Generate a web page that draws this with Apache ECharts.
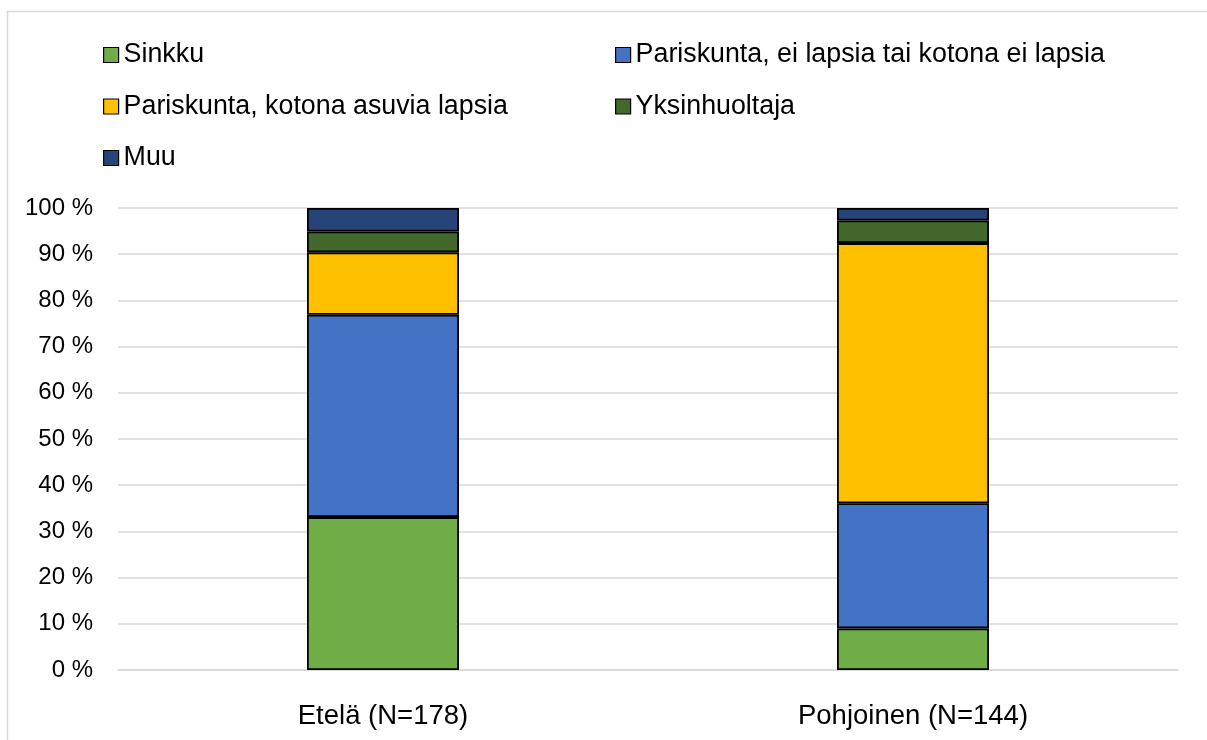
<!DOCTYPE html>
<html><head><meta charset="utf-8">
<script src="https://cdn.jsdelivr.net/npm/echarts@6/dist/echarts.min.js"></script>
<style>html,body{margin:0;padding:0;background:#fff}#c{width:1207px;height:740px}</style>
</head><body><div id="c"></div>
<script>
const categories = ['Etelä (N=178)', 'Pohjoinen (N=144)'];
const seriesNames = ['Sinkku', 'Pariskunta, ei lapsia tai kotona ei lapsia', 'Pariskunta, kotona asuvia lapsia', 'Yksinhuoltaja', 'Muu'];
const sinkku = [33.1, 9.0];
const pariEiLapsia = [43.8, 27.1];
const pariLapsia = [13.5, 56.3];
const yksinhuoltaja = [4.5, 4.9];
const muu = [5.1, 2.7];
const yTicks = [0, 10, 20, 30, 40, 50, 60, 70, 80, 90, 100];
const colors = ['#70ad47', '#4472c4', '#ffc000', '#43682b', '#264478'];
const values = [sinkku, pariEiLapsia, pariLapsia, yksinhuoltaja, muu];

const FONT = 'Liberation Sans';
const chart = echarts.init(document.getElementById('c'), null, {renderer: 'canvas'});
const legendText = {fontFamily: FONT, fontSize: 26.8, color: '#000', lineHeight: 30};
const legendBase = {orient: 'vertical', padding: 0, itemWidth: 15, itemHeight: 15, itemGap: 21.5,
  textStyle: legendText, icon: 'rect', itemStyle: {borderColor: '#000', borderWidth: 1.2}, selectedMode: false};
chart.setOption({
  animation: false,
  graphic: [{type: 'rect', shape: {x: 7.5, y: 11.5, width: 1300, height: 800}, style: {fill: 'none', stroke: '#d9d9d9', lineWidth: 1.5}, silent: true, z: -10}],
  legend: [
    Object.assign({}, legendBase, {data: [seriesNames[0], seriesNames[2], seriesNames[4]], left: 103, top: 40}),
    Object.assign({}, legendBase, {data: [seriesNames[1], seriesNames[3]], left: 615, top: 40})
  ],
  grid: {left: 118, right: 29, top: 208, bottom: 70, containLabel: false},
  xAxis: {type: 'category', data: categories,
    axisLine: {show: true, lineStyle: {color: '#d9d9d9', width: 1.5}},
    axisTick: {show: false},
    axisLabel: {fontFamily: FONT, fontSize: 27.5, color: '#000', margin: 32}},
  yAxis: {type: 'value', min: 0, max: 100, interval: 10,
    axisLine: {show: false}, axisTick: {show: false},
    splitLine: {lineStyle: {color: '#d9d9d9', width: 1.5}},
    axisLabel: {fontFamily: FONT, fontSize: 24, color: '#000', margin: 25,
      formatter: v => yTicks.includes(v) ? v + ' %' : ''}},
  series: seriesNames.map((n, i) => ({
    name: n, type: 'bar', stack: 'total', data: values[i], barWidth: 152,
    itemStyle: {color: colors[i], borderColor: '#000', borderWidth: 1.8}
  }))
});
</script></body></html>
